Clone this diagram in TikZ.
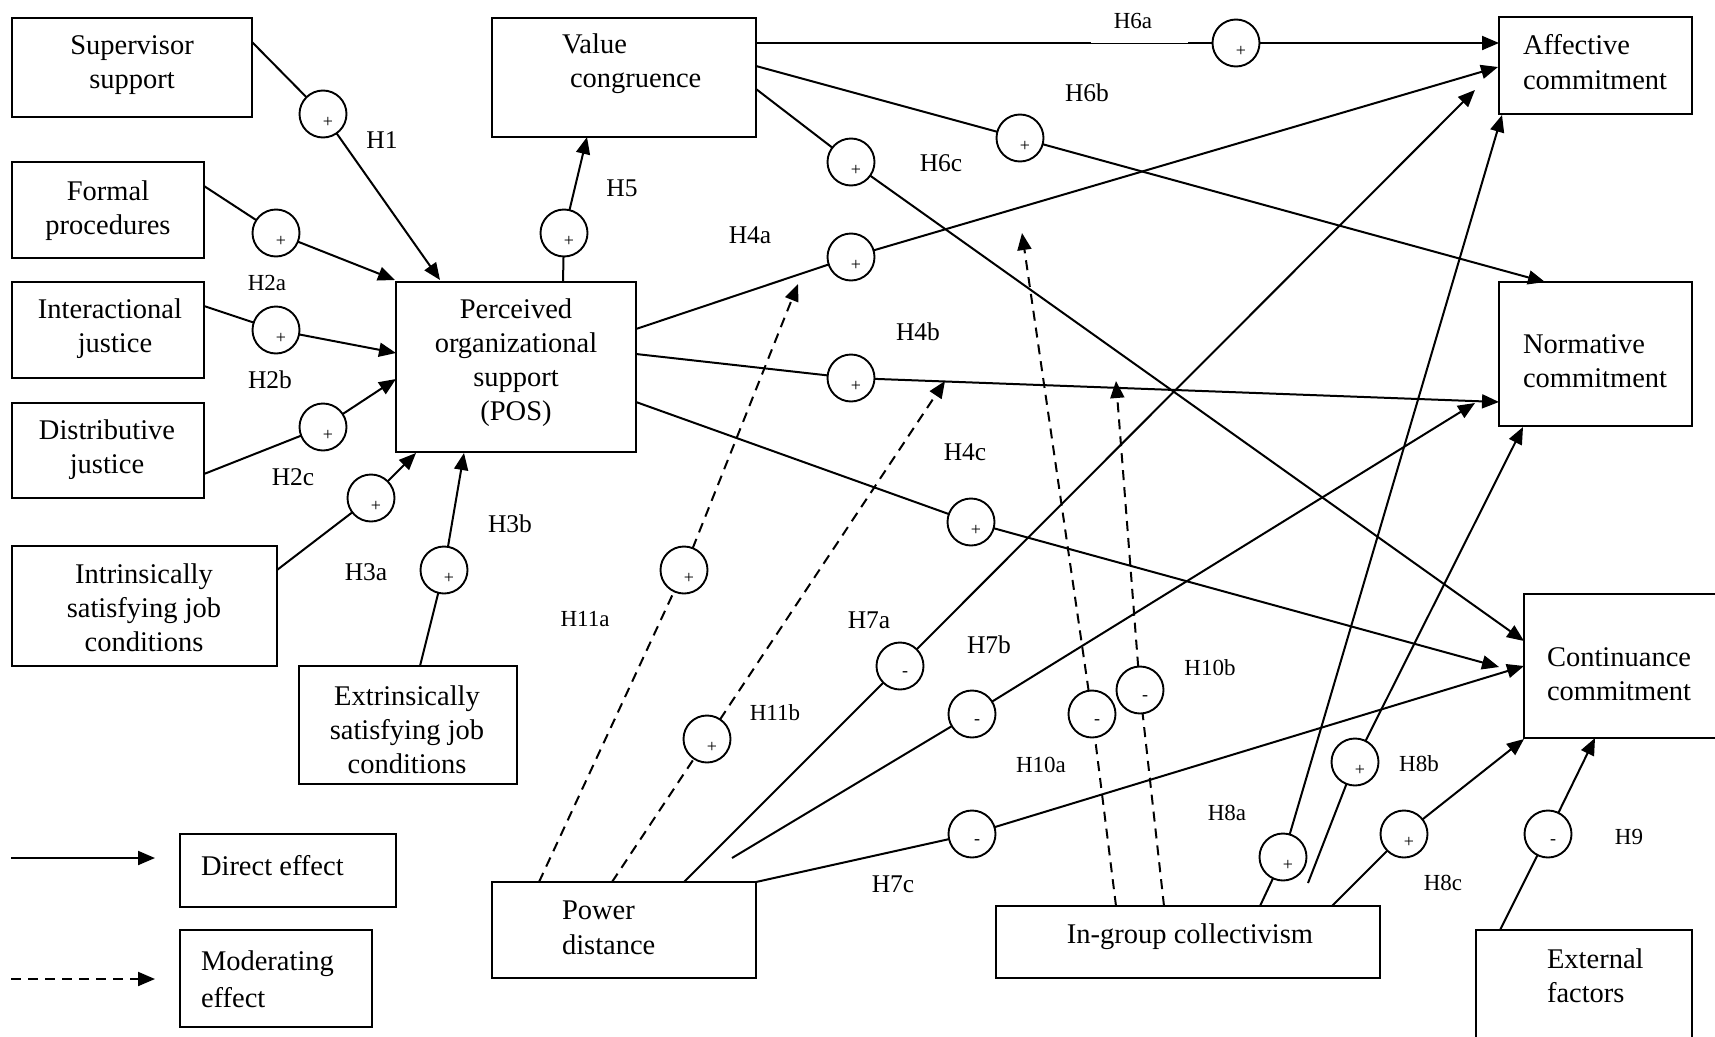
\documentclass[tikz,border=0pt]{standalone}
\usepackage{fontspec}
\setmainfont{Liberation Serif}
\usetikzlibrary{arrows.meta}
% multi-line text whose base anchor is the first baseline
\newcommand\mlc[1]{\begin{tabular}[t]{@{}c@{}}#1\end{tabular}}
\newcommand\mll[1]{\begin{tabular}[t]{@{}l@{}}#1\end{tabular}}
% rectangle box: name, top-left x, y, width, height
\newcommand\mkbox[5]{\node[box, minimum width=#4, minimum height=#5, anchor=north west] (#1) at (#2,#3) {};}
% hypothesis circle with its sign: name, x, y, sign
\newcommand\hyp[4]{\node[hc] (#1) at (#2,#3) {}; \node[sgn] (#1s) at ([shift={(5,8)}]#1.center) {#4};}

\begin{document}
\begin{tikzpicture}[x=1pt,y=-1pt,
  line width=2pt,
  box/.style={draw, line width=2pt, inner sep=0pt, outer sep=0pt},
  txt/.style={inner sep=0pt, font=\fontsize{28.5}{34}\selectfont},
  hl/.style={inner sep=0pt, font=\fontsize{25.5}{28}\selectfont},
  hs/.style={inner sep=0pt, font=\fontsize{23}{26}\selectfont},
  hc/.style={draw, circle, fill=white, line width=1.9pt, minimum size=47pt, inner sep=0pt, outer sep=0pt},
  sgn/.style={inner sep=0pt, font=\fontsize{18}{19}\selectfont},
  eff/.style={-{Triangle[length=17pt,width=14pt]}, line width=2pt},
  mod/.style={-{Triangle[length=17pt,width=14pt]}, line width=2pt, dash pattern=on 10pt off 7pt},
  seg/.style={line width=2pt},
  dseg/.style={line width=2pt, dash pattern=on 10pt off 7pt}
]
\useasboundingbox (0,0) rectangle (1715,1036);

% ---------- boxes ----------
\mkbox{sup}{12}{18}{240}{99}
\mkbox{fp}{12}{162}{192}{96}
\mkbox{ij}{12}{282}{192}{96}
\mkbox{dj}{12}{403}{192}{95}
\mkbox{isj}{12}{546}{265}{120}
\mkbox{esj}{299}{666}{218}{118}
\mkbox{pos}{396}{282}{240}{170}
\mkbox{vc}{492}{18}{264}{119}
\mkbox{ac}{1499}{17}{193}{97}
\mkbox{nc}{1499}{282}{193}{144}
\mkbox{cc}{1524}{594}{193}{144}
\mkbox{ef}{1476}{930}{216}{115}
\mkbox{pd}{492}{882}{264}{96}
\mkbox{igc}{996}{906}{384}{72}
\mkbox{de}{180}{834}{216}{73}
\mkbox{me}{180}{930}{192}{97}

% ---------- box texts ----------
\node[txt, anchor=base] (supT) at (132,54) {\mlc{Supervisor\\support}};
\node[txt, anchor=base] (fpT) at (108,200) {\mlc{Formal\\procedures}};
\node[txt, anchor=base] (ijT) at (110,318) {\mlc{Interactional\\\hspace{10pt}justice}};
\node[txt, anchor=base] (djT) at (107,439) {\mlc{Distributive\\justice}};
\node[txt, anchor=base] (isjT) at (144,583) {\mlc{Intrinsically\\satisfying job\\conditions}};
\node[txt, anchor=base] (esjT) at (407,705) {\mlc{Extrinsically\\satisfying job\\conditions}};
\node[txt, anchor=base] (posT) at (516,318) {\mlc{Perceived\\organizational\\support\\(POS)}};
\node[txt, anchor=base west] (vcT) at (561,53) {\mll{Value\\\hspace{8pt}congruence}};
\node[txt, anchor=base west] (acT) at (1522,54) {\mll{Affective\\[1pt]commitment}};
\node[txt, anchor=base west] (ncT) at (1522,353) {\mll{Normative\\commitment}};
\node[txt, anchor=base west] (ccT) at (1546,666) {\mll{Continuance\\commitment}};
\node[txt, anchor=base west] (efT) at (1546,968) {\mll{External\\factors}};
\node[txt, anchor=base west] (pdT) at (561,919) {\mll{Power\\[1pt]distance}};
\node[txt, anchor=base] (igcT) at (1190,943) {In-group collectivism};
\node[txt, anchor=base west] (deT) at (200,875) {Direct effect};
\node[txt, anchor=base west] (meT) at (200,970) {\mll{Moderating\\[3pt]effect}};

% ---------- hypothesis circles ----------
\hyp{c1}{323}{114}{+}
\hyp{c2a}{276}{233}{+}
\hyp{c2b}{276}{330}{+}
\hyp{c2c}{323}{427}{+}
\hyp{c3a}{371}{498}{+}
\hyp{c3b}{444}{570}{+}
\hyp{c5}{564}{233}{+}
\hyp{c4a}{851}{257}{+}
\hyp{c4b}{851}{378}{+}
\hyp{c4c}{971}{522}{+}
\hyp{c6a}{1236}{43}{+}
\hyp{c6b}{1020}{138}{+}
\hyp{c6c}{851}{162}{+}
\hyp{c11a}{684}{570}{+}
\hyp{c11b}{707}{739}{+}
\hyp{c7a}{900}{666}{-}
\hyp{c7b}{972}{714}{-}
\hyp{c7c}{972}{834}{-}
\hyp{c10a}{1092}{714}{-}
\hyp{c10b}{1140}{690}{-}
\hyp{c8a}{1283}{857}{+}
\hyp{c8b}{1355}{762}{+}
\hyp{c8c}{1404}{834}{+}
\hyp{c9}{1548}{834}{-}

% ---------- connector end points ----------
\coordinate (h1s) at (252,42);   \coordinate (h1t) at (440,280);
\coordinate (h2as) at (204,186); \coordinate (h2at) at (395,280);
\coordinate (h2bs) at (204,306); \coordinate (h2bt) at (396,353);
\coordinate (h2cs) at (204,474); \coordinate (h2ct) at (396,379);
\coordinate (h3as) at (277,570); \coordinate (h3at) at (416,453);
\coordinate (h3bs) at (420,666); \coordinate (h3bt) at (464,453);
\coordinate (h5s) at (563,282);  \coordinate (h5t) at (587,137);
\coordinate (h4as) at (636,329); \coordinate (h4at) at (1498,67);
\coordinate (h4bs) at (636,354); \coordinate (h4bt) at (1499,402);
\coordinate (h4cs) at (636,402); \coordinate (h4ct) at (1499,667);
\coordinate (h6as) at (756,43);  \coordinate (h6at) at (1499,43);
\coordinate (h6am) at (1091,43); \coordinate (h6an) at (1188,43);
\coordinate (h6bs) at (756,66);  \coordinate (h6bt) at (1545,282);
\coordinate (h6cs) at (756,89);  \coordinate (h6ct) at (1524,641);
\coordinate (h11as) at (539,882); \coordinate (h11at) at (798,284);
\coordinate (h11bs) at (612,882); \coordinate (h11bt) at (945,381);
\coordinate (h7as) at (684,882); \coordinate (h7at) at (1475,90);
\coordinate (h7bs) at (732,858); \coordinate (h7bt) at (1475,403);
\coordinate (h7cs) at (756,882); \coordinate (h7ct) at (1524,666);
\coordinate (h10as) at (1116,906); \coordinate (h10at) at (1022,233);
\coordinate (h10bs) at (1164,906); \coordinate (h10bt) at (1116,381);
\coordinate (h8as) at (1260,906); \coordinate (h8at) at (1502,115);
\coordinate (h8bs) at (1308,883); \coordinate (h8bt) at (1523,427);
\coordinate (h8cs) at (1332,906); \coordinate (h8ct) at (1524,739);
\coordinate (h9s) at (1500,930);  \coordinate (h9t) at (1595,738);
\coordinate (lgas) at (11,858);  \coordinate (lgat) at (155,858);
\coordinate (lgbs) at (11,979);  \coordinate (lgbt) at (155,979);

% ---------- direct effects ----------
\draw[seg] (h1s) -- (c1);   \draw[eff] (c1) -- (h1t);
\draw[seg] (h2as) -- (c2a); \draw[eff] (c2a) -- (h2at);
\draw[seg] (h2bs) -- (c2b); \draw[eff] (c2b) -- (h2bt);
\draw[seg] (h2cs) -- (c2c); \draw[eff] (c2c) -- (h2ct);
\draw[seg] (h3as) -- (c3a); \draw[eff] (c3a) -- (h3at);
\draw[seg] (h3bs) -- (c3b); \draw[eff] (c3b) -- (h3bt);
\draw[seg] (h5s) -- (c5);   \draw[eff] (c5) -- (h5t);
\draw[seg] (h4as) -- (c4a); \draw[eff] (c4a) -- (h4at);
\draw[seg] (h4bs) -- (c4b); \draw[eff] (c4b) -- (h4bt);
\draw[seg] (h4cs) -- (c4c); \draw[eff] (c4c) -- (h4ct);
\draw[seg] (h6as) -- (h6am);
\draw[line width=0.7pt] (h6am) -- (h6an);
\draw[seg] (h6an) -- (c6a); \draw[eff] (c6a) -- (h6at);
\draw[seg] (h6bs) -- (c6b); \draw[eff] (c6b) -- (h6bt);
\draw[seg] (h6cs) -- (c6c); \draw[eff] (c6c) -- (h6ct);
\draw[seg] (h7as) -- (c7a); \draw[eff] (c7a) -- (h7at);
\draw[seg] (h7bs) -- (c7b); \draw[eff] (c7b) -- (h7bt);
\draw[seg] (h7cs) -- (c7c); \draw[eff] (c7c) -- (h7ct);
\draw[seg] (h8as) -- (c8a); \draw[eff] (c8a) -- (h8at);
\draw[seg] (h8bs) -- (c8b); \draw[eff] (c8b) -- (h8bt);
\draw[seg] (h8cs) -- (c8c); \draw[eff] (c8c) -- (h8ct);
\draw[seg] (h9s) -- (c9);   \draw[eff] (c9) -- (h9t);

% ---------- moderating effects ----------
\draw[dseg] (h11as) -- (c11a); \draw[mod] (c11a) -- (h11at);
\draw[dseg] (h11bs) -- (c11b); \draw[mod] (c11b) -- (h11bt);
\draw[dseg] (h10as) -- (c10a); \draw[mod] (c10a) -- (h10at);
\draw[dseg] (h10bs) -- (c10b); \draw[mod] (c10b) -- (h10bt);

% ---------- legend ----------
\draw[eff] (lgas) -- (lgat);
\draw[mod] (lgbs) -- (lgbt);

% ---------- hypothesis labels ----------
\node[hl] (lH1) at (382,140) {H1};
\node[hs] (lH2a) at (267,283) {H2a};
\node[hl] (lH2b) at (270,380) {H2b};
\node[hl] (lH2c) at (293,477) {H2c};
\node[hl] (lH3a) at (366,572) {H3a};
\node[hl] (lH3b) at (510,524) {H3b};
\node[hl] (lH5) at (622,188) {H5};
\node[hl] (lH4a) at (750,235) {H4a};
\node[hl] (lH4b) at (918,332) {H4b};
\node[hl] (lH4c) at (965,452) {H4c};
\node[hs] (lH6a) at (1133,21) {H6a};
\node[hl] (lH6b) at (1087,93) {H6b};
\node[hl] (lH6c) at (941,163) {H6c};
\node[hs] (lH11a) at (585,619) {H11a};
\node[hs] (lH11b) at (775,713) {H11b};
\node[hl] (lH7a) at (869,620) {H7a};
\node[hl] (lH7b) at (989,645) {H7b};
\node[hl] (lH7c) at (893,884) {H7c};
\node[hs] (lH10a) at (1041,765) {H10a};
\node[hs] (lH10b) at (1210,668) {H10b};
\node[hs] (lH8a) at (1227,813) {H8a};
\node[hs] (lH8b) at (1419,764) {H8b};
\node[hs] (lH8c) at (1443,883) {H8c};
\node[hs] (lH9) at (1629,837) {H9};
\end{tikzpicture}
\end{document}
